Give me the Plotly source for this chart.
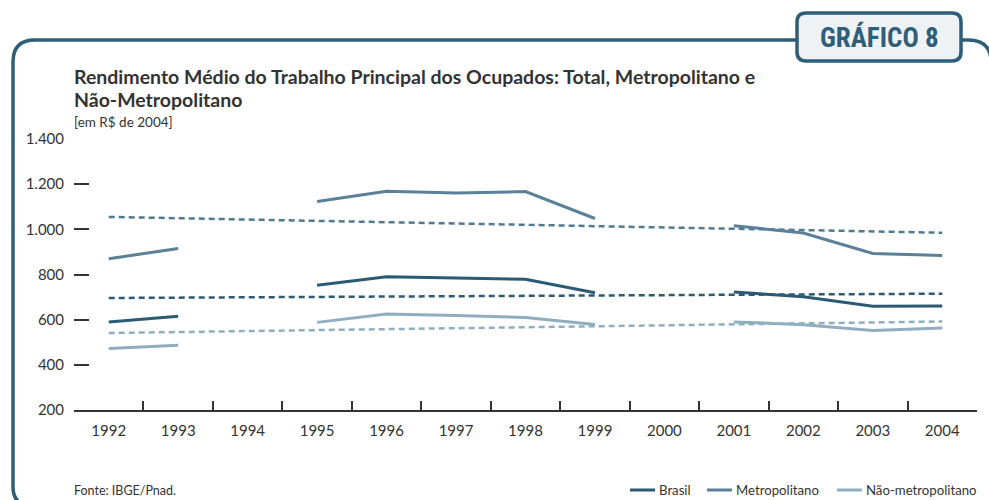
import plotly.graph_objects as go

# ---------------- data ----------------
years = ["1992", "1993", "1994", "1995", "1996", "1997", "1998",
         "1999", "2000", "2001", "2002", "2003", "2004"]
brasil = [590, 615, None, 752, 790, 784, 779, 719, None, 723, 701, 659, 660]
metropolitano = [870, 915, None, 1123, 1169, 1161, 1167, 1048, None, 1016, 984, 893, 884]
nao_metropolitano = [472, 487, None, 588, 625, 619, 610, 579, None, 590, 578, 552, 563]

trend_years = ["1992", "2004"]
brasil_trend = [696, 715]
metropolitano_trend = [1055, 985]
nao_metropolitano_trend = [541, 592]

y_ticks = [200, 400, 600, 800, 1000, 1200, 1400]

series_names = ["Brasil", "Metropolitano", "Não-metropolitano"]

# ---------------- style ----------------
W, H = 989, 500
L, R, T, B = 74, 12, 139, 90
C_BRASIL = "#2b5b74"
C_METRO = "#5a8198"
C_NAO = "#8fafc1"
C_FRAME = "#2e5e78"
TXT = "#333333"
FONT = "Lato, 'Open Sans', sans-serif"
NARROW = "'Liberation Sans Narrow', 'Roboto Condensed', Roboto, sans-serif"


def px(x):
    return (x - L) / (W - L - R)


def py(y):
    return 1 - (y - T) / (H - T - B)


fig = go.Figure()

for vals, col in [(brasil_trend, C_BRASIL), (metropolitano_trend, "#4f7a92"),
                  (nao_metropolitano_trend, C_NAO)]:
    fig.add_trace(go.Scatter(x=trend_years, y=vals, mode="lines",
                             line=dict(color=col, width=2.5, dash="6px,4px"),
                             showlegend=False, hoverinfo="skip"))

for name, vals, col in [(series_names[0], brasil, C_BRASIL),
                        (series_names[1], metropolitano, C_METRO),
                        (series_names[2], nao_metropolitano, C_NAO)]:
    fig.add_trace(go.Scatter(x=years, y=vals, mode="lines", name=name,
                             line=dict(color=col, width=3),
                             connectgaps=False, showlegend=False))

shapes = []
# frame
frame = (f"M {px(36)} {py(507)} Q {px(13)} {py(507)} {px(13)} {py(487)} "
         f"L {px(13)} {py(62)} Q {px(13)} {py(40)} {px(35)} {py(40)} "
         f"L {px(968)} {py(40)} Q {px(991)} {py(40)} {px(991)} {py(62)} "
         f"L {px(991)} {py(507)}")
shapes.append(dict(type="path", xref="paper", yref="paper", path=frame,
                   line=dict(color=C_FRAME, width=3.5), layer="below"))
# badge
bx0, by0, bx1, by1, rr = 797, 13, 961, 61, 9
badge = (f"M {px(bx0 + rr)} {py(by0)} L {px(bx1 - rr)} {py(by0)} "
         f"Q {px(bx1)} {py(by0)} {px(bx1)} {py(by0 + rr)} "
         f"L {px(bx1)} {py(by1 - rr)} Q {px(bx1)} {py(by1)} {px(bx1 - rr)} {py(by1)} "
         f"L {px(bx0 + rr)} {py(by1)} Q {px(bx0)} {py(by1)} {px(bx0)} {py(by1 - rr)} "
         f"L {px(bx0)} {py(by0 + rr)} Q {px(bx0)} {py(by0)} {px(bx0 + rr)} {py(by0)} Z")
shapes.append(dict(type="path", xref="paper", yref="paper", path=badge,
                   fillcolor="#eef2f5", line=dict(color=C_FRAME, width=3.5),
                   layer="above"))

annotations = [
    dict(text="<b>GRÁFICO 8</b>", x=px(879), y=py(37), xref="paper", yref="paper",
         showarrow=False, font=dict(family=NARROW, size=27, color=C_FRAME),
         xanchor="center", yanchor="middle"),
    dict(text="<b>Rendimento Médio do Trabalho Principal dos Ocupados: Total, Metropolitano e</b>",
         x=px(72), y=py(76), xref="paper", yref="paper", showarrow=False,
         font=dict(family=FONT, size=19.5, color=TXT), xanchor="left", yanchor="middle"),
    dict(text="<b>Não-Metropolitano</b>",
         x=px(72), y=py(100), xref="paper", yref="paper", showarrow=False,
         font=dict(family=FONT, size=19.5, color=TXT), xanchor="left", yanchor="middle"),
    dict(text="[em R$ de 2004]", x=px(72), y=py(122), xref="paper", yref="paper",
         showarrow=False, font=dict(family=FONT, size=13.5, color=TXT),
         xanchor="left", yanchor="middle"),
    dict(text="Fonte: IBGE/Pnad.", x=px(72), y=py(490), xref="paper", yref="paper",
         showarrow=False, font=dict(family=FONT, size=12.5, color=TXT),
         xanchor="left", yanchor="middle"),
]

# manual legend
leg = [(series_names[0], C_BRASIL, 630), (series_names[1], C_METRO, 707),
       (series_names[2], C_NAO, 837)]
for name, col, x0 in leg:
    shapes.append(dict(type="line", xref="paper", yref="paper",
                       x0=px(x0), x1=px(x0 + 25), y0=py(490), y1=py(490),
                       line=dict(color=col, width=3)))
    annotations.append(dict(text=name, x=px(x0 + 27), y=py(490), xref="paper",
                            yref="paper", showarrow=False,
                            font=dict(family=FONT, size=13.2, color=TXT),
                            xanchor="left", yanchor="middle"))

fig.update_layout(
    width=W, height=H,
    margin=dict(l=L, r=R, t=T, b=B),
    paper_bgcolor="white", plot_bgcolor="white",
    separators=",.",
    showlegend=False,
    shapes=shapes, annotations=annotations,
    xaxis=dict(type="category", categoryorder="array", categoryarray=years,
               range=[-0.5, 12.5], showline=True, linecolor=TXT, linewidth=1.5,
               ticks="inside", tickson="boundaries", ticklen=9, tickwidth=1.5,
               tickcolor=TXT, showgrid=False, zeroline=False,
               tickfont=dict(family=FONT, size=15, color=TXT),
               ticklabelstandoff=6, fixedrange=True),
    yaxis=dict(range=[200, 1400], tickvals=y_ticks, tickformat=",d",
               ticks="inside", ticklen=15, tickwidth=2, tickcolor=TXT,
               showline=False, showgrid=False, zeroline=False,
               tickfont=dict(family=FONT, size=15, color=TXT),
               ticklabelstandoff=9, fixedrange=True),
)

fig.write_html("out.html", config={"displayModeBar": False},
               post_script="document.body.style.margin='0';document.body.style.padding='0';document.body.style.overflow='hidden';")
